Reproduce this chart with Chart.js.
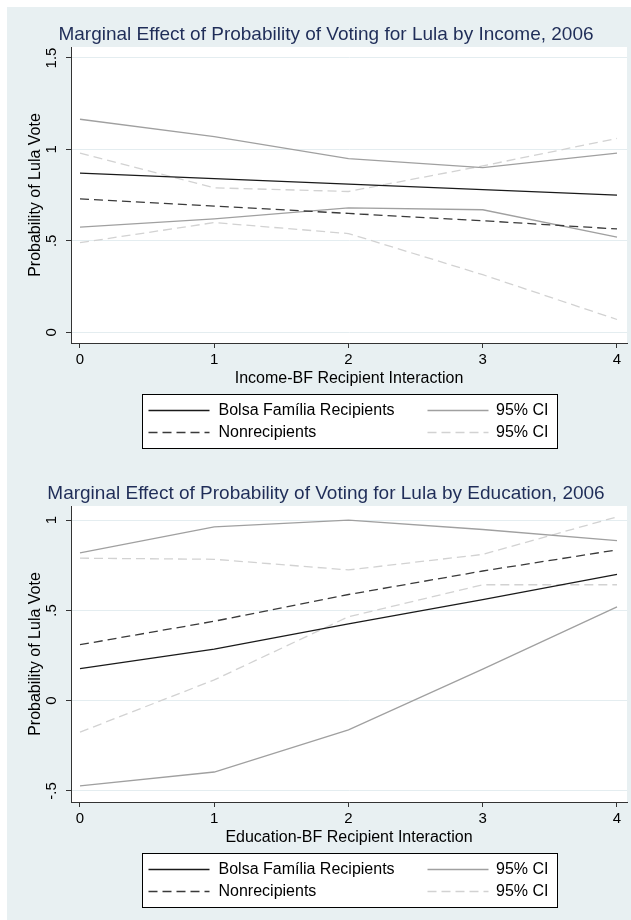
<!DOCTYPE html>
<html>
<head>
<meta charset="utf-8">
<script src="https://cdn.jsdelivr.net/npm/chart.js@4"></script>
<style>
  html, body { margin: 0; padding: 0; background: #fff; }
  body { width: 631px; height: 920px; position: relative; overflow: hidden; }
  #fundo { position: absolute; left: 7px; top: 7px; right: 0; bottom: 0; background: #e8f0f2; }
  canvas { position: absolute; left: 7px; }
  #graficoRenda { top: 7px; }
  #graficoEducacao { top: 466px; }
</style>
</head>
<body>
<div id="fundo"></div>
<canvas id="graficoRenda" width="624" height="459"></canvas>
<canvas id="graficoEducacao" width="624" height="459"></canvas>
<script>
// ========== DADOS ==========
const xValues = [0, 1, 2, 3, 4];
const serieLabels = ['Bolsa Família Recipients', 'Nonrecipients', '95% CI', '95% CI'];
const yTitle = 'Probability of Lula Vote';

// Renda
const incomeTitle = 'Marginal Effect of Probability of Voting for Lula by Income, 2006';
const incomeXTitle = 'Income-BF Recipient Interaction';
const incomeYTicks = [0, 0.5, 1, 1.5];
const incomeYLabels = ['0', '.5', '1', '1.5'];
const incomeRecip = [0.87, 0.84, 0.81, 0.78, 0.75];
const incomeNonrecip = [0.73, 0.69, 0.65, 0.61, 0.565];
const incomeRecipHi = [1.165, 1.07, 0.95, 0.90, 0.98];
const incomeRecipLo = [0.575, 0.62, 0.68, 0.67, 0.52];
const incomeNonHi = [0.98, 0.79, 0.77, 0.91, 1.06];
const incomeNonLo = [0.49, 0.60, 0.54, 0.315, 0.07];

// Educação
const eduTitle = 'Marginal Effect of Probability of Voting for Lula by Education, 2006';
const eduXTitle = 'Education-BF Recipient Interaction';
const eduYTicks = [-0.5, 0, 0.5, 1];
const eduYLabels = ['-.5', '0', '.5', '1'];
const eduRecip = [0.177, 0.285, 0.425, 0.56, 0.70];
const eduNonrecip = [0.31, 0.44, 0.588, 0.718, 0.835];
const eduRecipHi = [0.818, 0.962, 1.0, 0.948, 0.886];
const eduRecipLo = [-0.472, -0.395, -0.162, 0.175, 0.519];
const eduNonHi = [0.789, 0.783, 0.724, 0.81, 1.018];
const eduNonLo = [-0.174, 0.115, 0.465, 0.642, 0.642];

// ========== ESTILO ==========
const fonte = "'Liberation Sans', Arial, sans-serif";
const corEixo = '#333333';
Chart.defaults.color = '#000';
Chart.defaults.font.family = fonte;

// fundo branco da área do gráfico
const fundoPlot = {
  id: 'fundoPlot',
  beforeDraw(chart) {
    const { ctx, chartArea: a } = chart;
    ctx.save();
    ctx.fillStyle = '#fff';
    ctx.fillRect(a.left, a.top, a.right - a.left, a.bottom - a.top);
    ctx.restore();
  }
};

// legenda em caixa, 2 colunas
const legendaCaixa = {
  id: 'legendaCaixa',
  afterDraw(chart) {
    const { ctx, chartArea } = chart;
    const w = 415, h = 54;
    const left = Math.round((chartArea.left + chartArea.right) / 2 - w / 2) + 0.5;
    const top = Math.round(chartArea.bottom) + 51.5;
    ctx.save();
    ctx.fillStyle = '#fff';
    ctx.fillRect(left, top, w, h);
    ctx.strokeStyle = '#000';
    ctx.lineWidth = 1;
    ctx.strokeRect(left, top, w, h);
    ctx.font = '16px ' + fonte;
    ctx.textBaseline = 'middle';
    chart.data.datasets.filter(d => d.slot).forEach(d => {
      const [col, row] = d.slot;
      const y = top + 16 + row * 22;
      const x0 = left + (col === 0 ? 6 : 285);
      ctx.strokeStyle = d.borderColor;
      ctx.lineWidth = d.borderWidth;
      ctx.setLineDash(d.borderDash || []);
      ctx.beginPath();
      ctx.moveTo(x0, y);
      ctx.lineTo(x0 + 61, y);
      ctx.stroke();
      ctx.setLineDash([]);
      ctx.fillStyle = '#000';
      if (col === 0) {
        ctx.textAlign = 'left';
        ctx.fillText(d.label, left + 76, y);
      } else {
        ctx.textAlign = 'right';
        ctx.fillText(d.label, left + 406, y);
      }
    });
    ctx.restore();
  }
};

function pontos(ys) {
  return xValues.map((x, i) => ({ x: x, y: ys[i] }));
}

function serie(label, ys, cor, tracejado, slot) {
  return {
    label: label,
    data: pontos(ys),
    borderColor: cor,
    borderWidth: 1.3,
    borderDash: tracejado ? [9, 5] : [],
    pointRadius: 0,
    tension: 0,
    fill: false,
    slot: slot
  };
}

function criarGrafico(id, cfg) {
  const ctx = document.getElementById(id).getContext('2d');
  return new Chart(ctx, {
    type: 'line',
    data: {
      datasets: [
        serie(serieLabels[0], cfg.recip, '#1a1a1a', false, [0, 0]),
        serie(serieLabels[1], cfg.nonrecip, '#3a3a3a', true, [0, 1]),
        serie(serieLabels[2], cfg.recipHi, '#a0a0a0', false, [1, 0]),
        serie(serieLabels[2], cfg.recipLo, '#a0a0a0', false, null),
        serie(serieLabels[3], cfg.nonHi, '#d2d2d2', true, [1, 1]),
        serie(serieLabels[3], cfg.nonLo, '#d2d2d2', true, null)
      ]
    },
    options: {
      responsive: false,
      animation: false,
      devicePixelRatio: 1,
      layout: { padding: { left: 18, right: 4, top: 0, bottom: 78 } },
      plugins: {
        legend: { display: false },
        tooltip: { enabled: false },
        title: {
          display: true,
          text: cfg.title,
          color: '#1f2d58',
          font: { size: 19, weight: 'normal', family: fonte },
          padding: { top: 16, bottom: 1.2 }
        }
      },
      scales: {
        x: {
          type: 'linear',
          min: -0.067,
          max: 4.0745,
          afterBuildTicks: s => { s.ticks = xValues.map(v => ({ value: v })); },
          afterFit: s => { s.height = 45; },
          ticks: { font: { size: 15 }, color: '#000', padding: 3, maxRotation: 0 },
          grid: { drawOnChartArea: false, tickLength: 5, tickColor: corEixo },
          border: { color: corEixo, width: 1 },
          title: { display: true, text: cfg.xTitle, font: { size: 16 }, color: '#000', padding: { top: 0, bottom: 0 } }
        },
        y: {
          type: 'linear',
          min: cfg.yMin,
          max: cfg.yMax,
          afterBuildTicks: s => { s.ticks = cfg.yTicks.map(v => ({ value: v })); },
          afterFit: s => { s.width = 46; },
          ticks: {
            font: { size: 15 },
            color: '#000',
            minRotation: 90,
            maxRotation: 90,
            crossAlign: 'center',
            padding: cfg.tickPad,
            callback: v => cfg.yLabels[cfg.yTicks.indexOf(v)]
          },
          grid: { color: '#e4edf0', tickLength: 5, tickColor: corEixo },
          border: { color: corEixo, width: 1 },
          title: { display: true, text: yTitle, font: { size: 16 }, color: '#000', padding: { top: 1, bottom: 0 } }
        }
      }
    },
    plugins: [fundoPlot, legendaCaixa]
  });
}

document.addEventListener('DOMContentLoaded', function () {
  criarGrafico('graficoRenda', {
    title: incomeTitle, xTitle: incomeXTitle,
    yTicks: incomeYTicks, yLabels: incomeYLabels, yMin: -0.0585, yMax: 1.56, tickPad: 4,
    recip: incomeRecip, nonrecip: incomeNonrecip,
    recipHi: incomeRecipHi, recipLo: incomeRecipLo, nonHi: incomeNonHi, nonLo: incomeNonLo
  });
  criarGrafico('graficoEducacao', {
    title: eduTitle, xTitle: eduXTitle,
    yTicks: eduYTicks, yLabels: eduYLabels, yMin: -0.561, yMax: 1.078, tickPad: 5,
    recip: eduRecip, nonrecip: eduNonrecip,
    recipHi: eduRecipHi, recipLo: eduRecipLo, nonHi: eduNonHi, nonLo: eduNonLo
  });
});
</script>
</body>
</html>
